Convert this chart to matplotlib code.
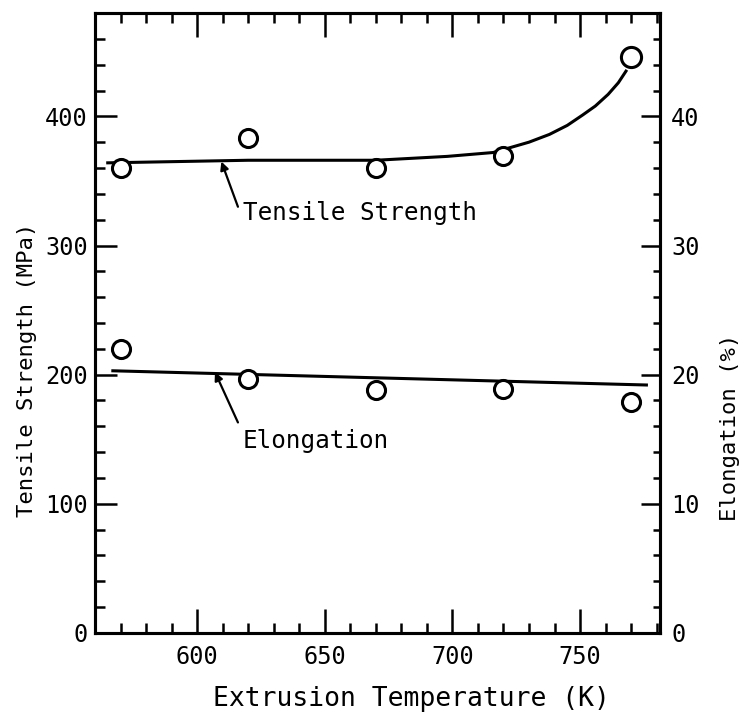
import matplotlib
matplotlib.use("Agg")
import matplotlib.pyplot as plt
from matplotlib.ticker import MultipleLocator

plt.rcParams['font.family'] = ['DejaVu Sans Mono']

# measured points
temp = [570, 620, 670, 720, 770]
tensile = [360, 383, 360, 369, 446]          # MPa
elong = [22.0, 19.7, 18.8, 18.9, 17.9]       # %

# hand drawn trend lines
ts_line_x = [565, 620, 670, 698, 716, 723, 730, 738, 745, 751, 756, 761, 765, 768]
ts_line_y = [364, 366, 366, 369, 372, 376, 380, 386, 393, 401, 408, 417, 426, 435]
el_line_x = [567, 776]
el_line_y = [20.3, 19.2]

fig = plt.figure(figsize=(7.49, 7.15), dpi=100)
ax = fig.add_axes([0.1268, 0.1147, 0.7543, 0.8671])
ax2 = ax.twinx()

ax.plot(ts_line_x, ts_line_y, color='k', lw=2.2, zorder=2)
ax.plot(temp[:4], tensile[:4], 'o', ms=13, mfc='white', mec='k', mew=2.2, zorder=3)
ax.plot(temp[4:], tensile[4:], 'o', ms=14.5, mfc='white', mec='k', mew=2.2, zorder=3)

ax2.plot(el_line_x, el_line_y, color='k', lw=2.2, zorder=2)
ax2.plot(temp, elong, 'o', ms=13, mfc='white', mec='k', mew=2.2, zorder=3)

ax.set_xlim(560, 781.3)
ax.set_ylim(0, 480)
ax2.set_ylim(0, 48)

ax.xaxis.set_major_locator(MultipleLocator(50))
ax.xaxis.set_minor_locator(MultipleLocator(10))
ax.yaxis.set_major_locator(MultipleLocator(100))
ax.yaxis.set_minor_locator(MultipleLocator(20))
ax2.yaxis.set_major_locator(MultipleLocator(10))
ax2.yaxis.set_minor_locator(MultipleLocator(2))

ax.tick_params(axis='x', which='both', direction='in', top=True, bottom=True,
               labelsize=17, pad=9, width=1.8)
ax.tick_params(axis='x', which='major', length=17)
ax.tick_params(axis='x', which='minor', length=7)
ax.tick_params(axis='y', which='both', direction='in', left=True, right=False,
               labelsize=17, pad=5, width=1.8)
ax.tick_params(axis='y', which='major', length=16)
ax.tick_params(axis='y', which='minor', length=7)
ax2.tick_params(axis='y', which='both', direction='in', labelsize=17, pad=8, width=1.8)
ax2.tick_params(axis='y', which='major', length=14)
ax2.tick_params(axis='y', which='minor', length=5)

for a in (ax, ax2):
    for s in a.spines.values():
        s.set_linewidth(2.2)

ax.set_xlabel('Extrusion Temperature (K)', fontsize=19)
ax.xaxis.set_label_coords(0.561, -0.085)
ax.set_ylabel('Tensile Strength (MPa)', fontsize=16)
ax.yaxis.set_label_coords(-0.103, 0.424)
ax2.set_ylabel('Elongation (%)', fontsize=16)
ax2.yaxis.set_label_coords(1.106, 0.331)

# labels with pointer arrows
arrow = dict(arrowstyle='-|>', lw=1.6, color='k', mutation_scale=12, shrinkA=0, shrinkB=0)
ax.annotate('', xy=(609.5, 365), xytext=(616, 330), arrowprops=arrow)
ax.text(618, 325, 'Tensile Strength', fontsize=17.5, ha='left', va='center')
ax.annotate('', xy=(607, 202), xytext=(616, 163), arrowprops=arrow)
ax.text(618, 149, 'Elongation', fontsize=17.5, ha='left', va='center')

fig.savefig('out.png', dpi=100)
